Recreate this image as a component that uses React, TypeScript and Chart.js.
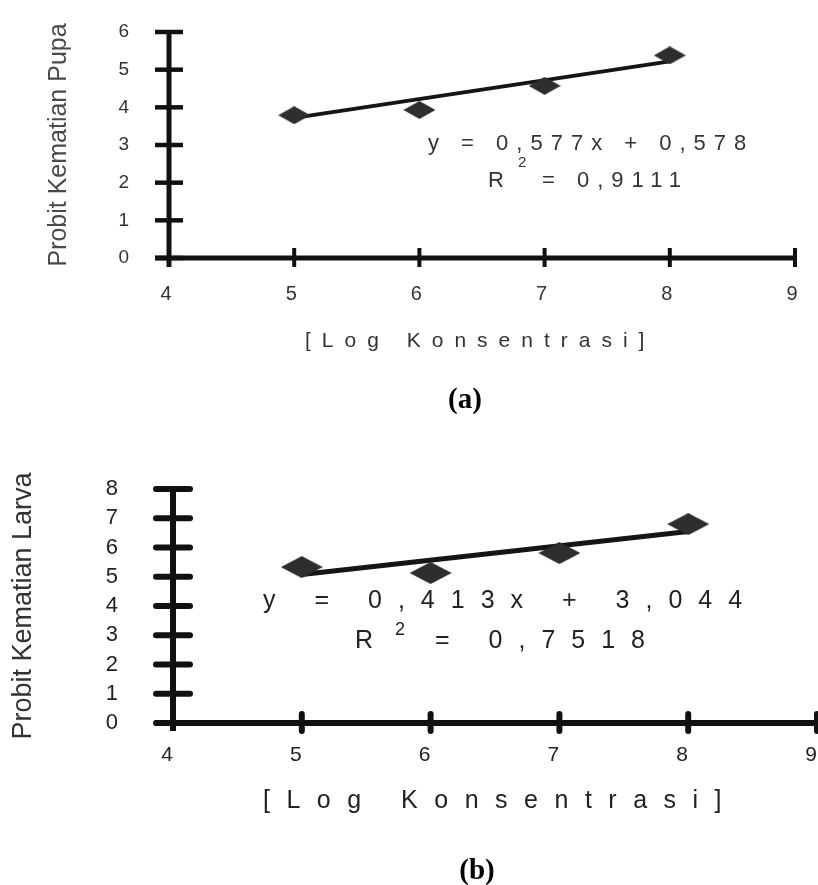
import React, { useEffect, useRef } from "react";
import { Chart, registerables } from "chart.js";

Chart.register(...registerables);

const FONT = '"Liberation Sans", Arial, Helvetica, sans-serif';
const SERIF = '"Liberation Serif", "Times New Roman", serif';
const CANVAS_W = 850;

// ---------------- data ----------------
const xTickValues = [4, 5, 6, 7, 8, 9];
const logConcentration = [5, 6, 7, 8];

const pupaProbit = [3.79, 3.93, 4.57, 5.38];
const pupaTrendX = [5, 8];
const pupaTrendY = [3.72, 5.22];
const pupaYTicks = [0, 1, 2, 3, 4, 5, 6];

const larvaProbit = [5.33, 5.13, 5.81, 6.8];
const larvaTrendX = [5, 8];
const larvaTrendY = [5.08, 6.55];
const larvaYTicks = [0, 1, 2, 3, 4, 5, 6, 7, 8];

const xAxisTitle = "[Log Konsentrasi]";
const pupaYTitle = "Probit Kematian Pupa";
const larvaYTitle = "Probit Kematian Larva";
const pupaEquation = "y = 0,577x + 0,578";
const pupaR2 = "= 0,9111";
const larvaEquation = "y = 0,413x + 3,044";
const larvaR2 = "= 0,7518";
const panelLabelA = "(a)";
const panelLabelB = "(b)";

// ---------------- panel styles ----------------
const panelA = {
  top: 0,
  height: 430,
  values: pupaProbit,
  trendX: pupaTrendX,
  trendY: pupaTrendY,
  yTicks: pupaYTicks,
  yMax: 6,
  yTitle: pupaYTitle,
  yTitleSize: 25,
  yTitlePad: 44,
  yTitleColor: "#4a4a4a",
  yLabelSize: 19,
  yLabelPad: 40,
  xLabelSize: 20,
  xLabelPad: 24.5,
  xLabelOffset: -3,
  labelColor: "#333333",
  areaLeft: 169,
  areaTop: 32,
  areaBottom: 258,
  areaRight: 795,
  diamond: [32, 18],
  trendWidth: 4,
  deco: {
    axisW: 5,
    cap: "butt",
    yTickHalf: 14,
    yTickW: 4.5,
    xTickUp: 10,
    xTickDown: 9,
    xTickW: 4,
    xAxisLeft: 14,
    xAxisRightExt: 0,
    yAxisBelow: 9,
    xTitle: { x: 305, y: 341, size: 21, ls: 11 },
    eq: { x: 428, y: 143.5, size: 22, ls: 8, text: pupaEquation },
    r2: { x: 488, y: 181, size: 22, supX: 518, supY: 163, supSize: 15, eqX: 542, ls: 8, text: pupaR2 },
    label: { x: 465, y: 401, size: 29, text: panelLabelA },
    textColor: "#333333",
  },
};

const panelB = {
  top: 430,
  height: 455,
  values: larvaProbit,
  trendX: larvaTrendX,
  trendY: larvaTrendY,
  yTicks: larvaYTicks,
  yMax: 8,
  yTitle: larvaYTitle,
  yTitleSize: 27,
  yTitlePad: 7,
  yTitleColor: "#333333",
  yLabelSize: 22,
  yLabelPad: 55,
  xLabelSize: 21,
  xLabelPad: 20,
  xLabelOffset: -6,
  labelColor: "#222222",
  areaLeft: 173,
  areaTop: 59,
  areaBottom: 293,
  areaRight: 817,
  diamond: [42, 22],
  trendWidth: 5,
  deco: {
    axisW: 6,
    cap: "round",
    yTickHalf: 17,
    yTickW: 6,
    xTickUp: 9,
    xTickDown: 8,
    xTickW: 6,
    xAxisLeft: 18,
    xAxisRightExt: 20,
    yAxisBelow: 8,
    xTitle: { x: 263, y: 371, size: 25, ls: 16.5 },
    eq: { x: 263, y: 171, size: 25, ls: 16, text: larvaEquation },
    r2: { x: 355, y: 211, size: 25, supX: 395, supY: 200, supSize: 18, eqX: 435, ls: 16, text: larvaR2 },
    label: { x: 477, y: 442, size: 29, text: panelLabelB },
    textColor: "#222222",
  },
};

function drawText(ctx, str, x, y, font, color, ls, align = "left") {
  ctx.save();
  ctx.font = font;
  ctx.fillStyle = color;
  ctx.textBaseline = "middle";
  ctx.textAlign = align;
  (ctx as any).letterSpacing = ls + "px";
  ctx.fillText(str, x, y);
  ctx.restore();
}

function makeDiamond(w, h, color) {
  const c = document.createElement("canvas");
  c.width = w;
  c.height = h;
  const g = c.getContext("2d");
  g.fillStyle = color;
  g.beginPath();
  g.moveTo(w / 2, 0);
  g.lineTo(w, h / 2);
  g.lineTo(w / 2, h);
  g.lineTo(0, h / 2);
  g.closePath();
  g.fill();
  return c;
}

function decoPlugin(s) {
  return {
    id: "deco",
    beforeDatasetsDraw(chart) {
      const ctx = chart.ctx;
      const xs = chart.scales.x;
      const ys = chart.scales.y;
      const x0 = xs.getPixelForValue(xs.min);
      const y0 = ys.getPixelForValue(0);
      const yTop = ys.getPixelForValue(ys.max);
      const xEnd = xs.getPixelForValue(xs.max);
      const line = (a, b, c, d) => {
        ctx.beginPath();
        ctx.moveTo(a, b);
        ctx.lineTo(c, d);
        ctx.stroke();
      };
      ctx.save();
      ctx.strokeStyle = "#111";
      ctx.lineCap = s.cap;
      ctx.lineWidth = s.yTickW;
      ys.ticks.forEach((t) => {
        const y = ys.getPixelForValue(t.value);
        line(x0 - s.yTickHalf, y, x0 + s.yTickHalf, y);
      });
      ctx.lineWidth = s.xTickW;
      xs.ticks.forEach((t) => {
        if (t.value === xs.min) return;
        const x = xs.getPixelForValue(t.value);
        line(x, y0 - s.xTickUp, x, y0 + s.xTickDown);
      });
      ctx.lineCap = "butt";
      ctx.lineWidth = s.axisW;
      line(x0, yTop - 1, x0, y0 + s.yAxisBelow);
      line(x0 - s.xAxisLeft, y0, xEnd + s.xAxisRightExt, y0);
      ctx.restore();
    },
    afterDraw(chart) {
      const ctx = chart.ctx;
      const c = s.textColor;
      drawText(ctx, xAxisTitle, s.xTitle.x, s.xTitle.y, `${s.xTitle.size}px ${FONT}`, c, s.xTitle.ls);
      drawText(ctx, s.eq.text, s.eq.x, s.eq.y, `${s.eq.size}px ${FONT}`, c, s.eq.ls);
      drawText(ctx, "R", s.r2.x, s.r2.y, `${s.r2.size}px ${FONT}`, c, 0);
      drawText(ctx, "2", s.r2.supX, s.r2.supY, `${s.r2.supSize}px ${FONT}`, c, 0);
      drawText(ctx, s.r2.text, s.r2.eqX, s.r2.y, `${s.r2.size}px ${FONT}`, c, s.r2.ls);
      drawText(ctx, s.label.text, s.label.x, s.label.y, `bold ${s.label.size}px ${SERIF}`, "#000", 0, "center");
    },
  };
}

function ProbitPanel({ p }) {
  const ref = useRef<HTMLCanvasElement | null>(null);
  useEffect(() => {
    const canvas = ref.current;
    if (!canvas) return;
    const diamond = makeDiamond(p.diamond[0], p.diamond[1], "#2e2e2e");
    const chart = new Chart(canvas, {
      type: "scatter",
      data: {
        datasets: [
          {
            label: "Probit",
            data: logConcentration.map((x, i) => ({ x, y: p.values[i] })),
            pointStyle: diamond,
            pointRadius: 10,
            showLine: false,
          },
          {
            label: "Linear",
            data: p.trendX.map((x, i) => ({ x, y: p.trendY[i] })),
            showLine: true,
            borderColor: "#151515",
            borderWidth: p.trendWidth,
            pointRadius: 0,
            fill: false,
          },
        ],
      },
      options: {
        animation: false,
        responsive: false,
        devicePixelRatio: 1,
        layout: {
          padding: { top: p.areaTop, right: CANVAS_W - p.areaRight, left: 0, bottom: 0 },
        },
        plugins: { legend: { display: false }, tooltip: { enabled: false } },
        scales: {
          x: {
            type: "linear",
            min: 4,
            max: 9,
            afterBuildTicks: (sc) => {
              sc.ticks = xTickValues.map((v) => ({ value: v }));
            },
            afterFit: (sc) => {
              sc.height = p.height - p.areaBottom;
              sc.paddingLeft = 0;
              sc.paddingRight = 0;
            },
            grid: { display: false, drawTicks: false },
            border: { display: false },
            ticks: {
              autoSkip: false,
              maxRotation: 0,
              font: { size: p.xLabelSize, family: FONT },
              color: p.labelColor,
              padding: p.xLabelPad,
              labelOffset: p.xLabelOffset,
            },
          },
          y: {
            type: "linear",
            min: 0,
            max: p.yMax,
            afterBuildTicks: (sc) => {
              sc.ticks = p.yTicks.map((v) => ({ value: v }));
            },
            afterFit: (sc) => {
              sc.width = p.areaLeft;
              sc.paddingTop = 0;
              sc.paddingBottom = 0;
            },
            grid: { display: false, drawTicks: false },
            border: { display: false },
            ticks: {
              autoSkip: false,
              font: { size: p.yLabelSize, family: FONT },
              color: p.labelColor,
              padding: p.yLabelPad,
            },
            title: {
              display: true,
              text: p.yTitle,
              font: { size: p.yTitleSize, family: FONT },
              color: p.yTitleColor,
              padding: { top: p.yTitlePad, bottom: 0 },
            },
          },
        },
      },
      plugins: [decoPlugin(p.deco)],
    });
    return () => chart.destroy();
  }, [p]);
  return (
    <canvas
      ref={ref}
      width={CANVAS_W}
      height={p.height}
      style={{ position: "absolute", left: 0, top: p.top, display: "block" }}
    />
  );
}

export default function App() {
  return (
    <div
      style={{
        position: "absolute",
        left: 0,
        top: 0,
        width: 818,
        height: 885,
        overflow: "hidden",
        background: "#ffffff",
      }}
    >
      <ProbitPanel p={panelA} />
      <ProbitPanel p={panelB} />
    </div>
  );
}
